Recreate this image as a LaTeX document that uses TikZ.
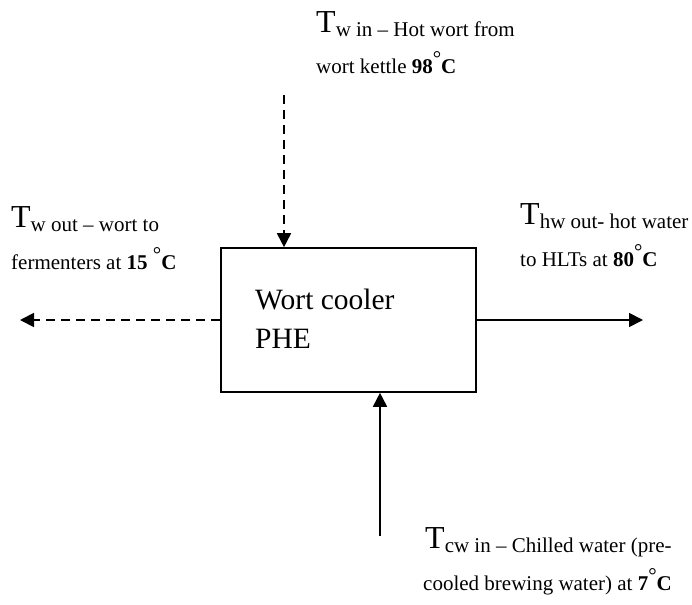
\documentclass[tikz,border=0pt]{standalone}
\usepackage{fontspec}
\setmainfont{Liberation Serif}
\usetikzlibrary{arrows.meta}
\newcommand{\bigT}{\raisebox{4pt}{\fontsize{32}{32}\selectfont T}}
\newcommand{\degsym}{\raisebox{8pt}{\fontsize{21}{21}\selectfont\normalfont °}}
\begin{document}
\begin{tikzpicture}[x=1pt,y=-1pt,
  lbl/.style={anchor=base west,inner sep=0pt,align=left,font=\fontsize{21}{37.5}\selectfont},
  flow/.style={line width=1.7pt,-{Triangle[length=14pt,width=14pt]}},
  dflow/.style={flow,dash pattern=on 9pt off 6pt},
  boxst/.style={draw,line width=1.6pt,minimum width=255pt,minimum height=144pt,inner sep=0pt}]
\useasboundingbox (0,0) rectangle (692,604);
\node[boxst] (phe) at (348.5,320) {};
\node[lbl,font=\fontsize{29.5}{39}\selectfont] (phetxt) at (255,348) {Wort cooler\\PHE};
\coordinate (tin) at (284,95);
\coordinate (tout) at (20,320);
\coordinate (hwout) at (643,320);
\coordinate (cwin) at (380,536);
\draw[dflow] (tin) -- (tin |- phe.north);
\draw[dflow] (phe.west) -- (tout);
\draw[flow] (phe.east) -- (hwout);
\draw[flow] (cwin) -- (cwin |- phe.south);
\node[lbl] (ltop) at (316,74) {\bigT w in – Hot wort from\\wort kettle \textbf{98}\degsym\textbf{C}};
\node[lbl] (lleft) at (11,269) {\bigT w out – wort to\\fermenters at \textbf{15} \degsym\textbf{C}};
\node[lbl] (lright) at (520,266) {\bigT hw out- hot water\\to HLTs at \textbf{80}\degsym\textbf{C}};
\node[lbl] (lbot) at (425,590) {\bigT cw in – Chilled water (pre-\\[0.5pt]\hspace*{-2pt}cooled brewing water) at \textbf{7}\degsym\textbf{C}};
\end{tikzpicture}
\end{document}
